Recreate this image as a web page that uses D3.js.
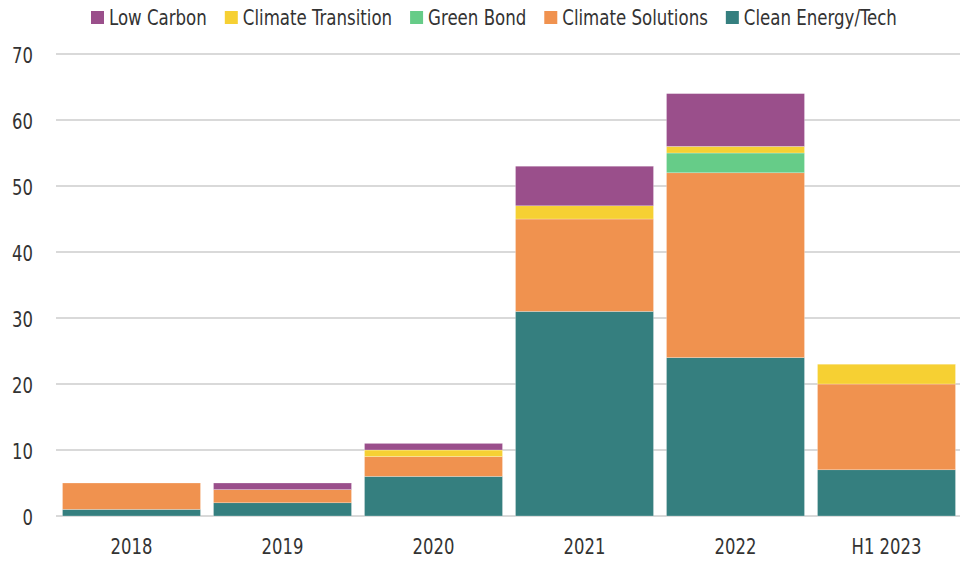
<!DOCTYPE html>
<html>
<head>
<meta charset="utf-8">
<script src="https://cdn.jsdelivr.net/npm/d3@7"></script>
<style>
  body { margin: 0; background: #fff; }
  text { font-family: "DejaVu Sans Condensed", "Roboto", sans-serif; fill: #333; }
</style>
</head>
<body>
<div id="chart-area"></div>
<script>
var years = ['2018', '2019', '2020', '2021', '2022', 'H1 2023'];
var cleanEnergy = [1, 2, 6, 31, 24, 7];
var climateSolutions = [4, 2, 3, 14, 28, 13];
var greenBond = [0, 0, 0, 0, 3, 0];
var climateTransition = [0, 0, 1, 2, 1, 3];
var lowCarbon = [0, 1, 1, 6, 8, 0];
var yTicks = [0, 10, 20, 30, 40, 50, 60, 70];

var seriesNames = ['Clean Energy/Tech', 'Climate Solutions', 'Green Bond', 'Climate Transition', 'Low Carbon'];
var seriesValues = [cleanEnergy, climateSolutions, greenBond, climateTransition, lowCarbon];
var colors = ['#357f7f', '#f0924f', '#66cc88', '#f6d033', '#9a4f8b'];

var rows = years.map((y, i) => {
    var r = {year: y};
    seriesNames.forEach((s, j) => { r[s] = seriesValues[j][i]; });
    return r;
});

// condensed look for the labels
var tickScale = 0.83;
var legendScale = 0.88;

var svg = d3.select("#chart-area").append("svg")
    .attr("width", 969)
    .attr("height", 561)

var x = d3.scaleBand()
    .domain(years)
    .range([56, 962])
    .paddingInner(0.086)
    .paddingOuter(0.043)

var y = d3.scaleLinear()
    .domain([0, 70])
    .range([516, 54])

var color = d3.scaleOrdinal()
    .domain(seriesNames)
    .range(colors)

// gridlines
svg.selectAll('line.grid')
    .data(yTicks)
    .enter()
    .append('line')
    .attr('class', 'grid')
    .attr('x1', 56)
    .attr('x2', 960)
    .attr('y1', (d) => y(d))
    .attr('y2', (d) => y(d))
    .attr('stroke', '#d9d9d9')
    .attr('stroke-width', 2)

svg.selectAll('text.ytick')
    .data(yTicks)
    .enter()
    .append('text')
    .attr('class', 'ytick')
    .attr('transform', (d) => 'translate(33,' + (y(d) + 8.5) + ') scale(' + tickScale + ',1)')
    .attr('text-anchor', 'end')
    .style('font-size', '22px')
    .text((d) => d)

var stack = d3.stack().keys(seriesNames)(rows);

svg.selectAll('g.series')
    .data(stack)
    .enter()
    .append('g')
    .attr('fill', (d) => color(d.key))
    .selectAll('rect')
    .data((d) => d)
    .enter()
    .append('rect')
    .attr('x', (d) => x(d.data.year))
    .attr('width', x.bandwidth())
    .attr('y', (d) => y(d[1]))
    .attr('height', (d) => y(d[0]) - y(d[1]))
    .attr('stroke', 'rgba(255,255,255,0.5)')
    .attr('stroke-width', 0.5)

svg.selectAll('text.xtick')
    .data(years)
    .enter()
    .append('text')
    .attr('class', 'xtick')
    .attr('transform', (d) => 'translate(' + (x(d) + x.bandwidth() / 2) + ',554) scale(' + tickScale + ',1)')
    .attr('text-anchor', 'middle')
    .style('font-size', '22px')
    .text((d) => d)

// legend, reversed order
var legendNames = seriesNames.slice().reverse();
var legend = svg.append('g')
var lx = 91;
legendNames.forEach((name) => {
    var g = legend.append('g').attr('transform', 'translate(' + lx + ',0)');
    g.append('rect')
        .attr('x', 0)
        .attr('y', 11)
        .attr('width', 13)
        .attr('height', 13)
        .attr('fill', color(name))
    var t = g.append('text')
        .attr('transform', 'translate(18,25) scale(' + legendScale + ',1)')
        .style('font-size', '21px')
        .text(name)
    lx += 18 + t.node().getComputedTextLength() * legendScale + 18;
});
</script>
</body>
</html>
